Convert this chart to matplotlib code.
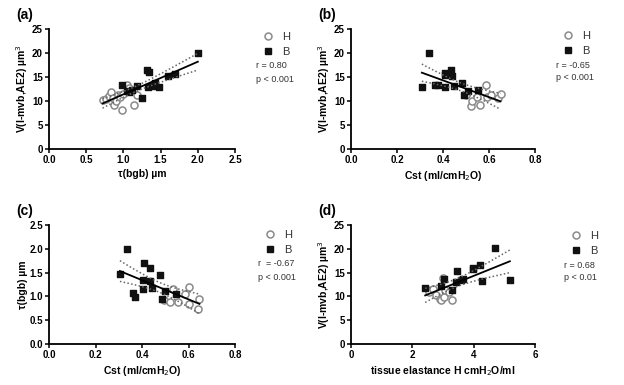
import matplotlib
matplotlib.use("Agg")
import matplotlib.pyplot as plt
import numpy as np
from matplotlib.lines import Line2D

plt.rcParams['font.family'] = ['Liberation Sans', 'DejaVu Sans']

# ---- data ----
# (a) tau(bgb) vs V(l-mvb,AE2)
a_h_x = [0.72, 0.76, 0.80, 0.84, 0.86, 0.88, 0.90, 0.93, 0.95, 0.98, 1.00, 1.05, 1.08, 1.14, 1.18]
a_h_y = [10.2, 10.4, 11.0, 11.8, 10.6, 9.2, 10.0, 11.3, 10.8, 8.2, 11.4, 13.3, 12.8, 9.2, 11.2]
a_b_x = [0.98, 1.05, 1.08, 1.12, 1.18, 1.25, 1.32, 1.35, 1.33, 1.38, 1.43, 1.48, 1.60, 1.70, 2.00]
a_b_y = [13.3, 12.0, 11.8, 12.2, 13.2, 10.7, 16.5, 16.0, 13.0, 13.2, 13.8, 13.0, 15.3, 15.7, 20.0]

# (b) Cst vs V(l-mvb,AE2)
b_h_x = [0.50, 0.52, 0.527, 0.548, 0.563, 0.588, 0.59, 0.607, 0.64, 0.65]
b_h_y = [11.3, 9.0, 9.9, 10.9, 9.2, 13.4, 10.9, 11.3, 10.6, 11.4]
b_b_x = [0.308, 0.337, 0.367, 0.377, 0.407, 0.41, 0.41, 0.436, 0.44, 0.447, 0.483, 0.49, 0.51, 0.55]
b_b_y = [13.0, 20.0, 13.4, 13.4, 13.0, 15.9, 15.5, 16.5, 15.3, 13.2, 13.7, 11.3, 12.0, 12.3]

# (c) Cst vs tau(bgb)
c_h_x = [0.496, 0.52, 0.535, 0.556, 0.585, 0.60, 0.60, 0.64, 0.647]
c_h_y = [0.92, 0.89, 1.16, 0.89, 1.06, 1.20, 0.85, 0.74, 0.95]
c_b_x = [0.305, 0.336, 0.362, 0.369, 0.408, 0.405, 0.405, 0.434, 0.434, 0.445, 0.477, 0.484, 0.50, 0.545]
c_b_y = [1.48, 2.00, 1.07, 0.99, 1.71, 1.34, 1.15, 1.60, 1.32, 1.18, 1.44, 0.95, 1.11, 1.04]

# (d) tissue elastance H vs V(l-mvb,AE2)
d_h_x = [2.53, 2.69, 2.77, 2.91, 2.94, 3.00, 3.02, 3.07, 3.18, 3.29]
d_h_y = [10.9, 11.6, 10.2, 9.4, 9.2, 13.9, 9.9, 11.3, 10.9, 9.2]
d_b_x = [2.42, 2.94, 3.04, 3.29, 3.42, 3.46, 3.60, 3.64, 3.97, 3.97, 4.22, 4.27, 4.69, 5.18]
d_b_y = [11.8, 12.2, 13.7, 11.4, 13.0, 15.4, 13.4, 13.6, 16.0, 15.7, 16.5, 13.2, 20.1, 13.4]

panels = [
    dict(tag="(a)", rect=[49, 29, 235, 149], hx=a_h_x, hy=a_h_y, bx=a_b_x, by=a_b_y,
         xlim=(0, 2.5), xticks=[0.0, 0.5, 1.0, 1.5, 2.0, 2.5], xfmt="%.1f",
         ylim=(0, 25), yticks=[0, 5, 10, 15, 20, 25], yfmt="%d",
         xlabel="τ(bgb) µm", ylabel="V(l-mvb,AE2) µm$^3$",
         stats=["r = 0.80", "p < 0.001"], dx=0, dy=0),
    dict(tag="(b)", rect=[351, 29, 535, 149], hx=b_h_x, hy=b_h_y, bx=b_b_x, by=b_b_y,
         xlim=(0, 0.8), xticks=[0.0, 0.2, 0.4, 0.6, 0.8], xfmt="%.1f",
         ylim=(0, 25), yticks=[0, 5, 10, 15, 20, 25], yfmt="%d",
         xlabel="Cst (ml/cmH$_2$O)", ylabel="V(l-mvb,AE2) µm$^3$",
         stats=["r = -0.65", "p < 0.001"], dx=0, dy=-1),
    dict(tag="(c)", rect=[49, 225, 235, 344], hx=c_h_x, hy=c_h_y, bx=c_b_x, by=c_b_y,
         xlim=(0, 0.8), xticks=[0.0, 0.2, 0.4, 0.6, 0.8], xfmt="%.1f",
         ylim=(0, 2.5), yticks=[0.0, 0.5, 1.0, 1.5, 2.0, 2.5], yfmt="%.1f",
         xlabel="Cst (ml/cmH$_2$O)", ylabel="τ(bgb) µm",
         stats=["r  = -0.67", "p < 0.001"], dx=2, dy=2),
    dict(tag="(d)", rect=[351, 225, 535, 344], hx=d_h_x, hy=d_h_y, bx=d_b_x, by=d_b_y,
         xlim=(0, 6), xticks=[0, 2, 4, 6], xfmt="%d",
         ylim=(0, 25), yticks=[0, 5, 10, 15, 20, 25], yfmt="%d",
         xlabel="tissue elastance H cmH$_2$O/ml", ylabel="V(l-mvb,AE2) µm$^3$",
         stats=["r = 0.68", "p < 0.01"], dx=8, dy=3),
]

W, H = 624, 385
fig = plt.figure(figsize=(W / 100, H / 100), dpi=100)

for p in panels:
    x0, y0, x1, y1 = p["rect"]
    ax = fig.add_axes([x0 / W, 1 - y1 / H, (x1 - x0) / W, (y1 - y0) / H])

    # linear fit with 95% confidence band over all points
    x = np.array(p["hx"] + p["bx"])
    y = np.array(p["hy"] + p["by"])
    slope, icpt = np.polyfit(x, y, 1)
    xs = np.linspace(x.min(), x.max(), 60)
    n = len(x)
    resid = y - (slope * x + icpt)
    s = np.sqrt(np.sum(resid ** 2) / (n - 2))
    se = s * np.sqrt(1 / n + (xs - x.mean()) ** 2 / np.sum((x - x.mean()) ** 2))
    fit = slope * xs + icpt
    ax.plot(xs, fit, color="black", lw=1.3, zorder=4)
    ax.plot(xs, fit - 2.05 * se, color="#666666", lw=1.1, ls=(0, (1, 1.5)), zorder=4)
    ax.plot(xs, fit + 2.05 * se, color="#666666", lw=1.1, ls=(0, (1, 1.5)), zorder=4)

    ax.scatter(p["hx"], p["hy"], s=26, facecolors="white", edgecolors="#8a8a8a",
               linewidths=1.1, zorder=3)
    ax.scatter(p["bx"], p["by"], s=24, marker="s", color="#111111", zorder=3)

    ax.set_xlim(p["xlim"])
    ax.set_ylim(p["ylim"])
    ax.set_xticks(p["xticks"])
    ax.set_yticks(p["yticks"])
    ax.set_xticklabels([p["xfmt"] % v for v in p["xticks"]])
    ax.set_yticklabels([p["yfmt"] % v for v in p["yticks"]])
    for lab in ax.get_xticklabels() + ax.get_yticklabels():
        lab.set_fontweight("bold")
        lab.set_fontsize(7)
    ax.tick_params(length=3, width=1.1, pad=1.5)
    for side in ["top", "right"]:
        ax.spines[side].set_visible(False)
    for side in ["left", "bottom"]:
        ax.spines[side].set_linewidth(1.3)
    ax.set_xlabel(p["xlabel"], fontsize=7.5, fontweight="bold", labelpad=3)
    ax.set_ylabel(p["ylabel"], fontsize=7.5, fontweight="bold", labelpad=1)

    # panel tag
    fig.text((x0 - 33) / W, 1 - (y0 - 14) / H, p["tag"], fontsize=10,
             fontweight="bold", va="center", ha="left")

    # legend and stats
    handles = [
        Line2D([], [], ls="none", marker="o", ms=5, mfc="white", mec="#8a8a8a", mew=1.1),
        Line2D([], [], ls="none", marker="s", ms=4.5, color="#111111"),
    ]
    lx = x1 + 27 + p["dx"]
    ly = y0 + 3 + p["dy"]
    ax.legend(handles, ["H", "B"], loc="upper left",
              bbox_to_anchor=(lx / W, 1 - ly / H),
              bbox_transform=fig.transFigure, frameon=False, fontsize=8,
              handlelength=1.0, handletextpad=0.8, labelspacing=0.45,
              borderpad=0, borderaxespad=0, labelcolor="#333333")
    fig.text((lx - 6) / W, 1 - (ly + 34) / H, p["stats"][0], fontsize=6.5,
             color="#333333", va="center")
    fig.text((lx - 6) / W, 1 - (ly + 47) / H, p["stats"][1], fontsize=6.5,
             color="#333333", va="center")

fig.savefig("out.png", dpi=100)
